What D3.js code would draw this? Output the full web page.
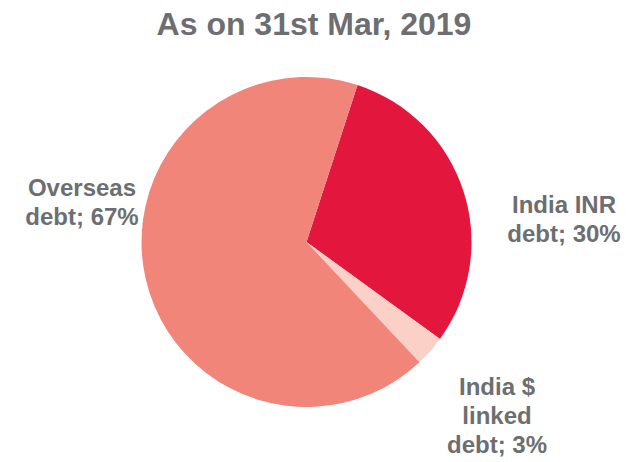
<!DOCTYPE html>
<html><head><meta charset="utf-8">
<script src="https://cdn.jsdelivr.net/npm/d3@7"></script>
<style>body{margin:0;background:#fff}svg{display:block}text{font-family:"Liberation Sans",Arial,Helvetica,sans-serif;font-weight:bold;fill:#6D6E71}</style>
</head><body>
<svg id="c" width="641" height="462"></svg>
<script>
const title = "As on 31st Mar, 2019";
const categories = ["India INR debt", "India $ linked debt", "Overseas debt"];
const values = [30, 3, 67];
const colors = ["#E3173E", "#FBD0C7", "#F28579"];
const labelLines = [["India INR", "debt; 30%"], ["India $", "linked", "debt; 3%"], ["Overseas", "debt; 67%"]];

const svg = d3.select("#c");
const cx = 306.5, cy = 242, r = 165;
const start = 18 * Math.PI / 180;
const pie = d3.pie().sort(null).startAngle(start).endAngle(start + 2 * Math.PI);
const arcs = pie(values);
const arc = d3.arc().innerRadius(0).outerRadius(r);
const g = svg.append("g").attr("transform", `translate(${cx},${cy})`);
g.selectAll("path").data(arcs).join("path").attr("d", arc).attr("fill", (d, i) => colors[i]);

svg.append("text").attr("x", 314).attr("y", 35).attr("text-anchor", "middle")
  .attr("font-size", 32).text(title);

const labelPos = [[564, 213], [497, 395], [82, 196]];
const lh = 29;
labelLines.forEach((lines, i) => {
  const t = svg.append("text").attr("text-anchor", "middle").attr("font-size", 24);
  lines.forEach((ln, j) => t.append("tspan").attr("x", labelPos[i][0]).attr("y", labelPos[i][1] + j * lh).text(ln));
});
</script>
</body></html>
